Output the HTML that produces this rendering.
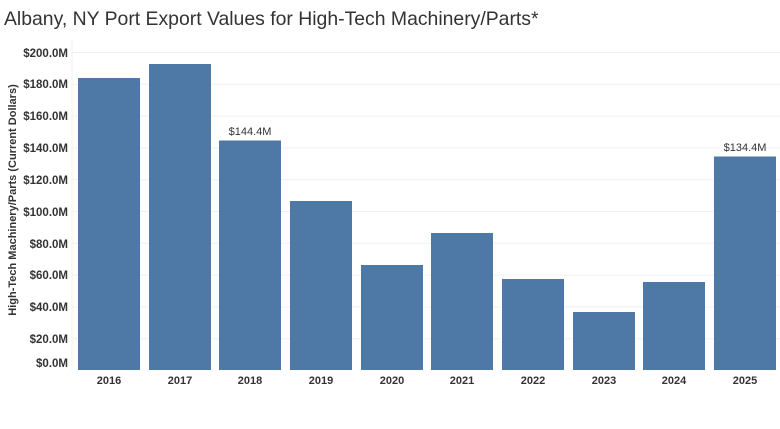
<!DOCTYPE html>
<html><head><style>
body{margin:0;background:#fff;width:780px;height:424px;overflow:hidden;font-family:"Liberation Sans",sans-serif}
</style></head><body>
<svg width="780" height="424" xmlns="http://www.w3.org/2000/svg" font-family="Liberation Sans, sans-serif">
<text x="4" y="25" font-size="19.4" fill="#333">Albany, NY Port Export Values for High-Tech Machinery/Parts*</text>
<g stroke="#f0f0f0" stroke-width="1">
<line x1="72" x2="780" y1="52.5" y2="52.5"/><line x1="72" x2="780" y1="84.3" y2="84.3"/>
<line x1="72" x2="780" y1="116.1" y2="116.1"/><line x1="72" x2="780" y1="147.9" y2="147.9"/>
<line x1="72" x2="780" y1="179.7" y2="179.7"/><line x1="72" x2="780" y1="211.5" y2="211.5"/>
<line x1="72" x2="780" y1="243.3" y2="243.3"/><line x1="72" x2="780" y1="275.1" y2="275.1"/>
<line x1="72" x2="780" y1="306.9" y2="306.9"/><line x1="72" x2="780" y1="338.7" y2="338.7"/>
<line x1="72" x2="72" y1="40" y2="370"/>
</g>
<g font-size="11.5" font-weight="bold" fill="#333" text-anchor="end">
<text x="68" y="57">$200.0M</text><text x="68" y="88">$180.0M</text><text x="68" y="120">$160.0M</text>
<text x="68" y="152">$140.0M</text><text x="68" y="184">$120.0M</text><text x="68" y="216">$100.0M</text>
<text x="68" y="248">$80.0M</text><text x="68" y="279">$60.0M</text><text x="68" y="311">$40.0M</text>
<text x="68" y="343">$20.0M</text><text x="68" y="367">$0.0M</text>
</g>
<text transform="translate(16,200) rotate(-90)" font-size="11" font-weight="bold" fill="#333" text-anchor="middle">High-Tech Machinery/Parts (Current Dollars)</text>
<g fill="#4e79a7">
<rect x="78" y="78" width="62" height="292"/>
<rect x="149" y="64" width="62" height="306"/>
<rect x="219" y="140.5" width="62" height="229.5"/>
<rect x="290" y="201" width="62" height="169"/>
<rect x="361" y="265" width="62" height="105"/>
<rect x="431" y="233" width="62" height="137"/>
<rect x="502" y="279" width="62" height="91"/>
<rect x="573" y="312" width="62" height="58"/>
<rect x="643" y="282" width="62" height="88"/>
<rect x="714" y="156.5" width="62" height="213.5"/>
</g>
<g font-size="11" fill="#333" text-anchor="middle">
<text x="250" y="135">$144.4M</text><text x="745" y="151">$134.4M</text>
</g>
<g font-size="11" font-weight="bold" fill="#333" text-anchor="middle">
<text x="109" y="384">2016</text><text x="180" y="384">2017</text><text x="250" y="384">2018</text>
<text x="321" y="384">2019</text><text x="392" y="384">2020</text><text x="462" y="384">2021</text>
<text x="533" y="384">2022</text><text x="604" y="384">2023</text><text x="674" y="384">2024</text>
<text x="745" y="384">2025</text>
</g>
</svg>
</body></html>
